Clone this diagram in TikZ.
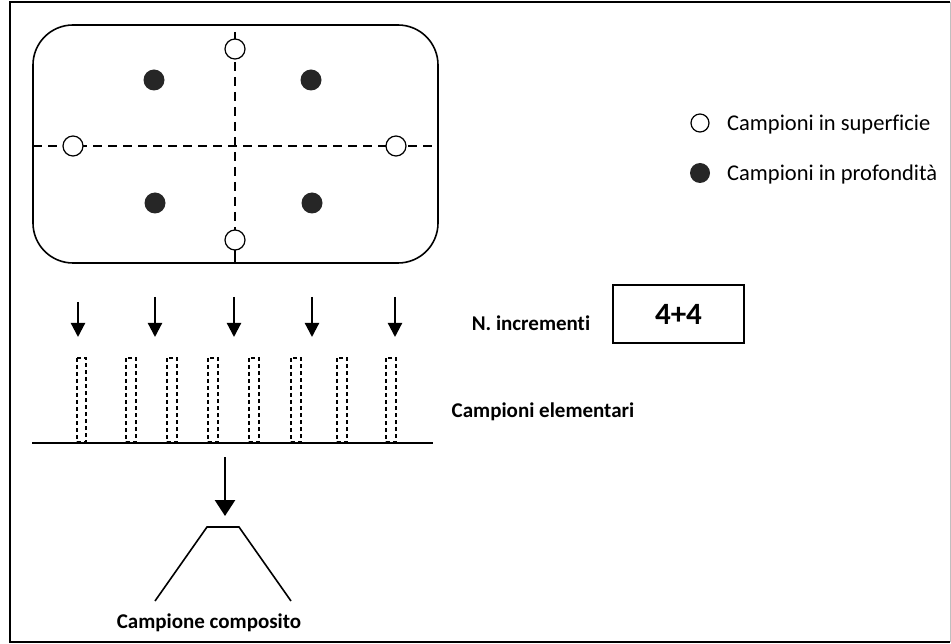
\documentclass[tikz,border=0pt]{standalone}
\usepackage{fontspec}
\setmainfont{Carlito}[Ligatures=NoCommon]
\usetikzlibrary{arrows.meta}
\tikzset{
  openpt/.style={circle,draw,line width=1.2pt,fill=white,minimum size=20pt,inner sep=0pt},
  fullpt/.style={circle,fill=black!85,minimum size=21pt,inner sep=0pt},
  gridline/.style={line width=1.8pt,dash pattern=on 9pt off 6pt},
  samplebox/.style={draw,line width=1.8pt,dash pattern=on 4pt off 3pt},
  downarrow/.style={line width=2.2pt,-{Triangle[width=14pt,length=14pt]}},
  bigarrow/.style={line width=2.8pt,-{Triangle[width=20pt,length=16pt]}},
  lbl/.style={font=\fontsize{21}{25}\selectfont\bfseries,inner sep=0pt},
  legtxt/.style={font=\fontsize{22.5}{27}\selectfont,anchor=west,inner sep=0pt}
}
\begin{document}
\begin{tikzpicture}[x=1pt,y=-1pt]
\useasboundingbox (0,0) rectangle (951,644);
% frame
\draw[line width=1.6pt] (950,2) -- (10,2) -- (10,642) -- (950,642);
\draw[line width=0.6pt,black!25] (950,2) -- (950,642);
% field
\draw[line width=1.6pt,rounded corners=40pt] (33,25) rectangle (438,263);
\coordinate (hl) at (33,146);
\coordinate (hr) at (438,146);
\coordinate (vt) at (235,32);
\coordinate (vb) at (235,240);
\coordinate (vbb) at (235,263);
\draw[gridline] (hl) -- (hr);
\draw[gridline] (vt) -- (vb);
\draw[line width=1.6pt] (vb) -- (vbb);
\node[openpt] (s1) at (235,49) {};
\node[openpt] (s2) at (235,240) {};
\node[openpt] (s3) at (73,146) {};
\node[openpt] (s4) at (396,146) {};
\node[fullpt] (d1) at (154,80) {};
\node[fullpt] (d2) at (311,80) {};
\node[fullpt] (d3) at (155,203) {};
\node[fullpt] (d4) at (312,203) {};
% legend
\node[openpt,minimum size=18pt] (lo) at (700,123) {};
\node[legtxt] (lot) at (727,125) {Campioni in superficie};
\node[fullpt,minimum size=20pt] (lf) at (700,173) {};
\node[legtxt] (lft) at (727,175) {Campioni in profondità};
% arrows
\foreach \x/\t/\n in {78/302/1,155/297/2,234/297/3,312/297/4,395/297/5}{
  \coordinate (at\n) at (\x,\t);
  \coordinate (ab\n) at (\x,337);
  \draw[downarrow] (at\n) -- (ab\n);
}
% increments
\node[lbl] (ninc) at (531,323) {N. incrementi};
\node[draw,line width=1.5pt,minimum width=131pt,minimum height=58pt,inner sep=0pt,
  font=\fontsize{31}{36}\selectfont\bfseries] (val) at (678.5,314) {4+4};
% elementary samples
\foreach \a/\b/\n in {77/86/1,126/136/2,167/177/3,208/218/4,249/259/5,291/301/6,337/347/7,386/396/8}{
  \draw[samplebox] (\a,358) rectangle (\b,442);
}
\coordinate (bl) at (32,443);
\coordinate (br) at (433,443);
\draw[line width=1.8pt] (bl) -- (br);
\node[lbl] (elem) at (543,412) {Campioni elementari};
% composite
\coordinate (ct) at (225,457);
\coordinate (cb) at (225,516);
\draw[bigarrow] (ct) -- (cb);
\draw[line width=1.6pt] (155,601) -- (207,527) -- (239,527) -- (291,601);
\node[lbl] (comp) at (209,623) {Campione composito};
\end{tikzpicture}
\end{document}
